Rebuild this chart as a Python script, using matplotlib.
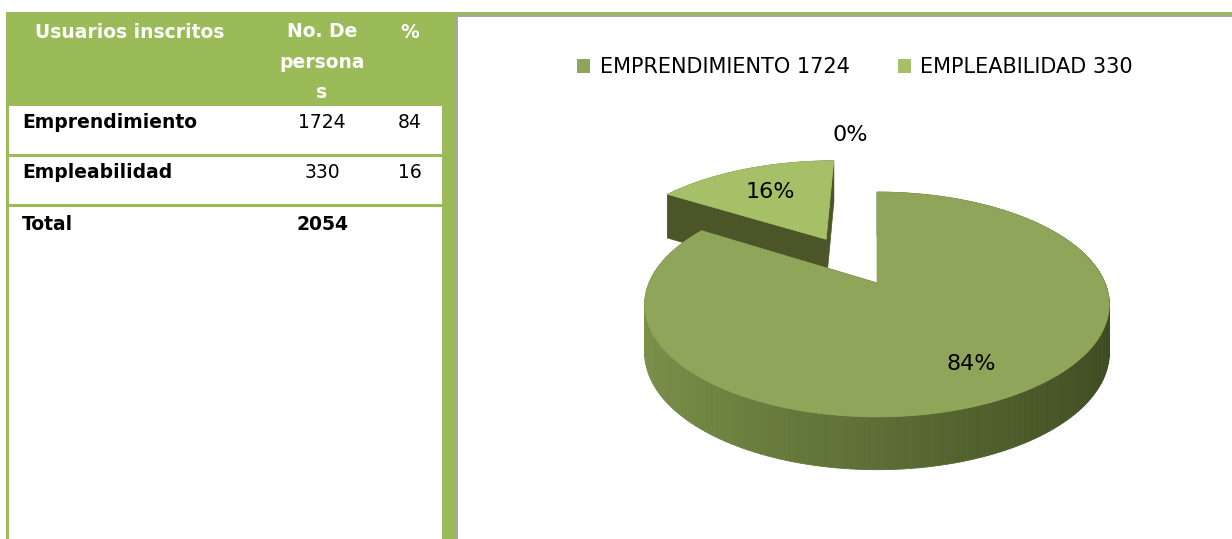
import numpy as np
import matplotlib.pyplot as plt
from matplotlib.patches import Polygon, Rectangle, Patch

# datos de la tabla
encabezados = ['Usuarios inscritos', 'No. De\npersona\ns', '%']
categorias = ['Emprendimiento', 'Empleabilidad']
personas = [1724, 330]
porcentaje = [84, 16]
total_label = 'Total'
total = 2054

# datos del grafico
pie_nombres = ['EMPRENDIMIENTO 1724', 'EMPLEABILIDAD 330']
pie_vals = [1724, 330, 0]
pie_explode = [0.0, 0.5, 0.0]

GREEN = '#9BBB59'
GRAY = '#A6A6A6'
TOP_COLORS = ['#8FA55A', '#A6C068', '#A6C068']
CUT_COLOR = '#4B5527'

W, H = 1232, 539
fig = plt.figure(figsize=(W / 100, H / 100), dpi=100)
ax = fig.add_axes([0, 0, 1, 1])
ax.set_xlim(0, W)
ax.set_ylim(H, 0)
ax.axis('off')

# ---- tabla ----
ax.add_patch(Rectangle((6, 12), 450, 94, color=GREEN, lw=0))          # cabecera
ax.add_patch(Rectangle((6, 12), 3, H, color=GREEN, lw=0))             # borde izq
ax.add_patch(Rectangle((442, 12), 14, H, color=GREEN, lw=0))          # franja der
ax.add_patch(Rectangle((456, 15), 2, H, color=GRAY, lw=0))
ax.add_patch(Rectangle((448, 12), W, 3, color=GREEN, lw=0))           # linea sup
ax.add_patch(Rectangle((458, 15), W, 1.5, color=GRAY, lw=0))

tfont = dict(family='DejaVu Sans', fontsize=13.5)
col_x = [130, 322, 410]
ax.text(col_x[0], 32, encabezados[0], color='white', weight='bold', ha='center', va='center', **tfont)
ax.text(col_x[1], 62, encabezados[1], color='white', weight='bold', ha='center', va='center',
        linespacing=1.75, **tfont)
ax.text(col_x[2], 32, encabezados[2], color='white', weight='bold', ha='center', va='center', **tfont)

row_y = [122, 172, 224]
for i, (c, p, pc) in enumerate(zip(categorias, personas, porcentaje)):
    ax.text(22, row_y[i], c, weight='bold', ha='left', va='center', **tfont)
    ax.text(col_x[1], row_y[i], str(p), ha='center', va='center', **tfont)
    ax.text(col_x[2], row_y[i], str(pc), ha='center', va='center', **tfont)
    ax.add_patch(Rectangle((6, 154 + 50 * i), 440, 3, color=GREEN, lw=0))
ax.text(22, row_y[2], total_label, weight='bold', ha='left', va='center', **tfont)
ax.text(col_x[1], row_y[2], str(total), weight='bold', ha='center', va='center', **tfont)

# ---- pastel 3D en perspectiva ----
cx, cy = 877, 283
S, T, K, DEPTH = 228, 0.475, 0.191, 47.5


def proj(x, yd, z=0.0):
    den = 1 + K * yd
    return cx + S * x / den, cy - S * T * yd / den + DEPTH * z / np.sqrt(den)


def side_color(x):
    light = np.array([123, 146, 74]) / 255
    dark = np.array([62, 74, 33]) / 255
    f = (x + 1) / 2
    return tuple(light * (1 - f) + dark * f)


vals = np.array(pie_vals, dtype=float)
frac = vals / vals.sum()
edges = np.concatenate([[0], np.cumsum(frac)]) * 2 * np.pi


def draw_slice(i, z0):
    a0, a1 = edges[i], edges[i + 1]
    if a1 - a0 <= 0:
        return
    mid = (a0 + a1) / 2
    ox, oy = pie_explode[i] * np.sin(mid), pie_explode[i] * np.cos(mid)
    th = np.linspace(a0, a1, 200)
    rx, ry = ox + np.sin(th), oy + np.cos(th)
    # lado exterior, de atras hacia adelante
    segs = []
    for j in range(len(th) - 1):
        p = [proj(rx[j], ry[j]), proj(rx[j + 1], ry[j + 1]),
             proj(rx[j + 1], ry[j + 1], 1), proj(rx[j], ry[j], 1)]
        segs.append(((ry[j] + ry[j + 1]) / 2, p, side_color((rx[j] + rx[j + 1]) / 2)))
    for _, p, col in sorted(segs, key=lambda s: -s[0]):
        ax.add_patch(Polygon(p, closed=True, fc=col, ec=col, lw=0.6, zorder=z0))
    # caras de corte
    for a in (a0, a1):
        ex, ey = ox + np.sin(a), oy + np.cos(a)
        p = [proj(ox, oy), proj(ex, ey), proj(ex, ey, 1), proj(ox, oy, 1)]
        ax.add_patch(Polygon(p, closed=True, fc=CUT_COLOR, ec=CUT_COLOR, lw=0.5, zorder=z0 + 0.1))
    # cara superior
    top = [proj(ox, oy)] + [proj(x, y) for x, y in zip(rx, ry)]
    ax.add_patch(Polygon(top, closed=True, fc=TOP_COLORS[i], ec=TOP_COLORS[i], lw=0.5, zorder=z0 + 0.2))


draw_slice(1, 2)
draw_slice(0, 3)

# etiquetas de porcentaje
lab_r = [0.75, 0.65, 1.85]
for i in range(len(vals)):
    a0, a1 = edges[i], edges[i + 1]
    mid = (a0 + a1) / 2 if a1 > a0 else a0 - np.radians(5)
    r = pie_explode[i] + lab_r[i]
    lx, ly = proj(r * np.sin(mid), r * np.cos(mid))
    ax.text(lx, ly, f'{frac[i] * 100:.0f}%', ha='center', va='center',
            fontsize=16, family='DejaVu Sans', color='black', zorder=5)

handles = [Patch(fc=TOP_COLORS[i], ec='none') for i in range(2)]
leg = ax.legend(handles, pie_nombres, loc='center', bbox_to_anchor=(855 / W, 1 - 67 / H),
                ncol=2, frameon=False, handlelength=0.65, handleheight=0.65,
                handletextpad=0.45, columnspacing=2.3, prop={'family': 'DejaVu Sans', 'size': 15})

fig.savefig('out.png', dpi=100)
